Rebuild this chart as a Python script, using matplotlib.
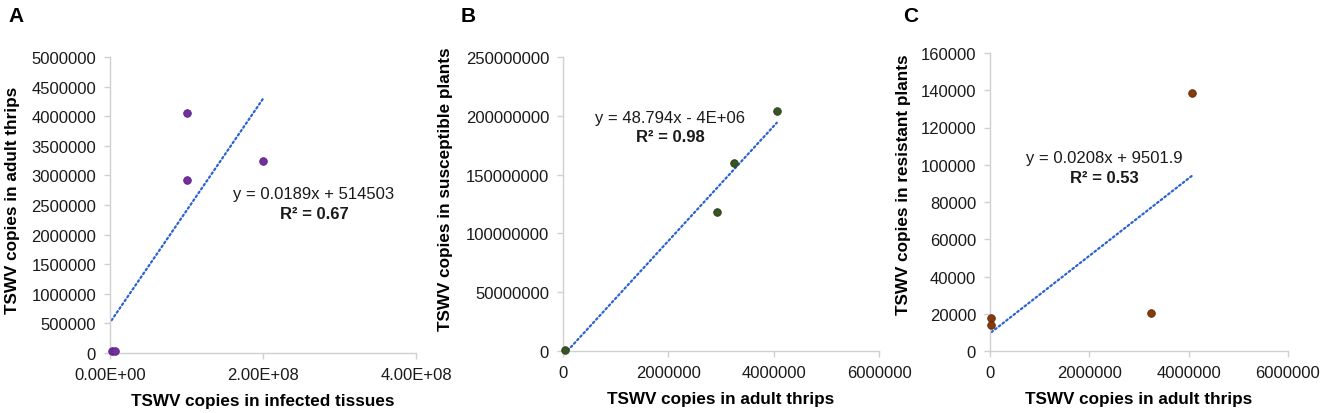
import numpy as np
import matplotlib
matplotlib.use("Agg")
import matplotlib.pyplot as plt
from matplotlib.ticker import MultipleLocator, FuncFormatter

plt.rcParams['font.family'] = ['Liberation Sans', 'DejaVu Sans']

# -------------------------------
# Data
# -------------------------------
# A: infected tissues (x) vs adult thrips (y)
tissue_x = [2.0e6, 6.3e6, 1.0e8, 1.0e8, 2.0e8]
thrips_a_y = [34000, 30000, 4050000, 2920000, 3240000]
fit_a = (0.0189, 514503)
eq_a = "y = 0.0189x + 514503"
r2_a = "R² = 0.67"

# B: adult thrips (x) vs susceptible plants (y)
thrips_b_x = [30000, 2930000, 3240000, 4060000]
suscept_y = [500000, 118000000, 159700000, 204200000]
fit_b = (48.794, -4.0e6)
eq_b = "y = 48.794x - 4E+06"
r2_b = "R² = 0.98"

# C: adult thrips (x) vs resistant plants (y)
thrips_c_x = [30000, 30000, 3250000, 4060000]
resist_y = [17600, 14000, 20600, 138700]
fit_c = (0.0208, 9501.9)
eq_c = "y = 0.0208x + 9501.9"
r2_c = "R² = 0.53"

W, H = 1325, 414
fig = plt.figure(figsize=(W / 100, H / 100), dpi=100)


def px_axes(left, right, top, bottom):
    return fig.add_axes([left / W, 1 - bottom / H, (right - left) / W, (bottom - top) / H])


def style(ax):
    for s in ("top", "right"):
        ax.spines[s].set_visible(False)
    for s in ("left", "bottom"):
        ax.spines[s].set_color("#d0d0d0")
        ax.spines[s].set_linewidth(1.0)
    ax.tick_params(direction="out", length=4, width=1.0, color="#d0d0d0",
                   labelsize=12, labelcolor="#1a1a1a", pad=6)


def panel(ax, x, y, fit, color, edge, eq, r2, xlim, xstep, ylim, ystep,
          xlabel, ylabel, ylab_pos, eq_pos, letter, letter_x, xfmt=None):
    style(ax)
    xs = np.array([min(x), max(x)])
    ax.plot(xs, fit[0] * xs + fit[1], color="#2a62d0", lw=1.6,
            linestyle=(0, (0.8, 1.3)), dash_capstyle="round", zorder=2)
    ax.scatter(x, y, s=30, color=color, edgecolors=edge, linewidths=0.6,
               zorder=3, clip_on=False)
    ax.set_xlim(*xlim)
    ax.set_ylim(*ylim)
    ax.xaxis.set_major_locator(MultipleLocator(xstep))
    ax.yaxis.set_major_locator(MultipleLocator(ystep))
    ax.yaxis.set_major_formatter(FuncFormatter(lambda v, p: f"{v:.0f}"))
    if xfmt is None:
        ax.xaxis.set_major_formatter(FuncFormatter(lambda v, p: f"{v:.0f}"))
    else:
        ax.xaxis.set_major_formatter(FuncFormatter(xfmt))
    ax.set_xlabel(xlabel, fontsize=12.3, fontweight="bold", labelpad=8)
    ax.set_ylabel(ylabel, fontsize=12.3, fontweight="bold")
    ax.yaxis.set_label_coords(*ylab_pos)
    ax.text(eq_pos[0], eq_pos[1], eq, transform=ax.transAxes, fontsize=12,
            ha="center", va="center", color="#1a1a1a")
    ax.text(eq_pos[0], eq_pos[1] - 0.068, r2, transform=ax.transAxes, fontsize=12,
            ha="center", va="center", fontweight="bold", color="#1a1a1a")
    fig.text(letter_x / W, 1 - 17 / H, letter, fontsize=15, fontweight="bold",
             ha="left", va="center")


ax_a = px_axes(110, 416, 58, 354)
panel(ax_a, tissue_x, thrips_a_y, fit_a, "#7030a0", "#5a2080", eq_a, r2_a,
      (0, 4e8), 2e8, (0, 5e6), 5e5,
      "TSWV copies in infected tissues", "TSWV copies in adult thrips",
      (-0.294, 0.518), ((314 - 110) / 306, (354 - 194) / 296), "A", 8,
      xfmt=lambda v, p: f"{v:.2E}")

ax_b = px_axes(563, 879, 58, 352)
panel(ax_b, thrips_b_x, suscept_y, fit_b, "#375623", "#263d18", eq_b, r2_b,
      (0, 6e6), 2e6, (0, 2.5e8), 5e7,
      "TSWV copies in adult thrips", "TSWV copies in susceptible plants",
      (-0.347, 0.555), ((670 - 563) / 316, (352 - 118) / 294), "B", 461)

ax_c = px_axes(990, 1288, 54, 352)
panel(ax_c, thrips_c_x, resist_y, fit_c, "#843c0c", "#5e2a08", eq_c, r2_c,
      (0, 6e6), 2e6, (0, 160000), 20000,
      "TSWV copies in adult thrips", "TSWV copies in resistant plants",
      (-0.266, 0.56), ((1104 - 990) / 298, (352 - 158) / 298), "C", 903)

fig.savefig("out.png", dpi=100)
